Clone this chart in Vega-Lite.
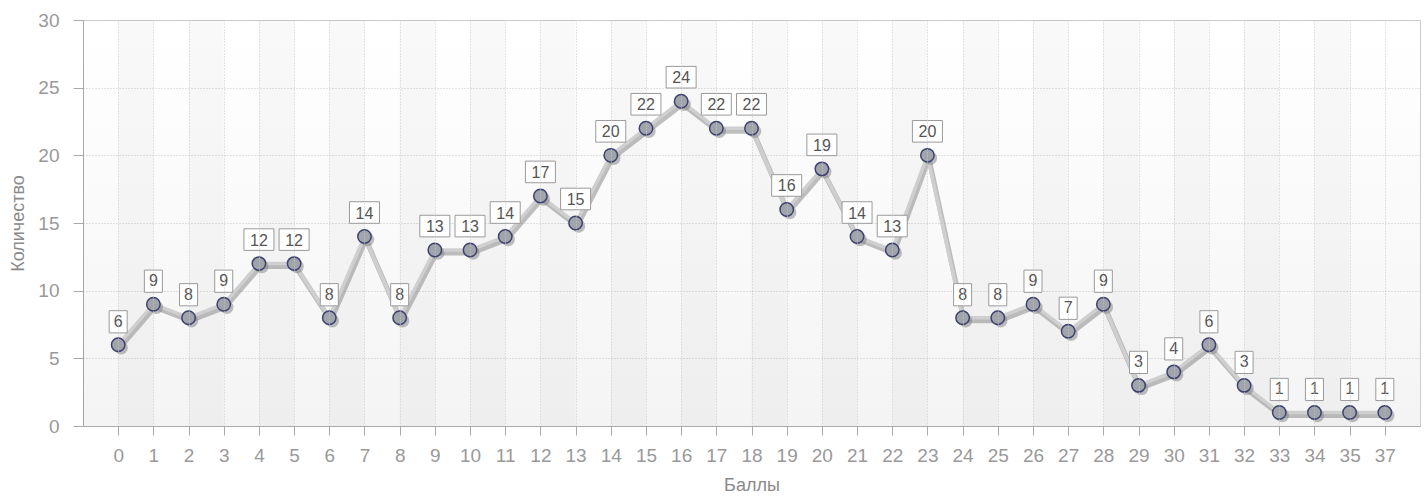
{
  "$schema": "https://vega.github.io/schema/vega-lite/v6.json",
  "width": 1337,
  "height": 406,
  "autosize": {"type": "none"},
  "padding": {"left": 83, "top": 20, "right": 7, "bottom": 71},
  "background": "white",
  "config": {
    "view": {"stroke": "#cccccc", "strokeWidth": 1},
    "font": "Liberation Sans",
    "axis": {
      "labelFont": "Liberation Sans",
      "titleFont": "Liberation Sans",
      "labelColor": "#999999",
      "titleColor": "#8a8a8a",
      "labelFontSize": 19,
      "titleFontSize": 18,
      "titleFontWeight": "normal",
      "domainColor": "#aaaaaa",
      "tickColor": "#aaaaaa",
      "gridColor": "#c8c8c8",
      "gridDash": [1, 2],
      "gridWidth": 1
    }
  },
  "data": {
    "values": [
      {"ball": "0", "count": 6},
      {"ball": "1", "count": 9},
      {"ball": "2", "count": 8},
      {"ball": "3", "count": 9},
      {"ball": "4", "count": 12},
      {"ball": "5", "count": 12},
      {"ball": "6", "count": 8},
      {"ball": "7", "count": 14},
      {"ball": "8", "count": 8},
      {"ball": "9", "count": 13},
      {"ball": "10", "count": 13},
      {"ball": "11", "count": 14},
      {"ball": "12", "count": 17},
      {"ball": "13", "count": 15},
      {"ball": "14", "count": 20},
      {"ball": "15", "count": 22},
      {"ball": "16", "count": 24},
      {"ball": "17", "count": 22},
      {"ball": "18", "count": 22},
      {"ball": "19", "count": 16},
      {"ball": "20", "count": 19},
      {"ball": "21", "count": 14},
      {"ball": "22", "count": 13},
      {"ball": "23", "count": 20},
      {"ball": "24", "count": 8},
      {"ball": "25", "count": 8},
      {"ball": "26", "count": 9},
      {"ball": "27", "count": 7},
      {"ball": "28", "count": 9},
      {"ball": "29", "count": 3},
      {"ball": "30", "count": 4},
      {"ball": "31", "count": 6},
      {"ball": "32", "count": 3},
      {"ball": "33", "count": 1},
      {"ball": "34", "count": 1},
      {"ball": "35", "count": 1},
      {"ball": "37", "count": 1}
    ]
  },
  "encoding": {
    "x": {
      "field": "ball",
      "type": "ordinal",
      "sort": null,
      "scale": {
        "type": "point",
        "padding": 1,
        "domain": ["0","1","2","3","4","5","6","7","8","9","10","11","12","13","14","15","16","17","18","19","20","21","22","23","24","25","26","27","28","29","30","31","32","33","34","35","37"]
      },
      "axis": {
        "title": "Баллы",
        "labelAngle": 0,
        "tickSize": 9,
        "labelPadding": 11,
        "grid": true,
        "titleY": 59,
        "titleBaseline": "middle"
      }
    },
    "y": {
      "field": "count",
      "type": "quantitative",
      "scale": {"domain": [0, 30], "nice": false},
      "axis": {
        "title": "Количество",
        "values": [0, 5, 10, 15, 20, 25, 30],
        "tickSize": 10,
        "labelPadding": 14,
        "grid": true,
        "titleX": -65,
        "titleY": 203,
        "titleAngle": -90,
        "titleAlign": "center",
        "titleBaseline": "middle"
      }
    }
  },
  "layer": [
    {
      "mark": {
        "type": "rect",
        "fill": {
          "gradient": "linear",
          "x1": 0, "y1": 0, "x2": 0, "y2": 1,
          "stops": [
            {"offset": 0, "color": "rgba(0,0,0,0)"},
            {"offset": 1, "color": "rgba(0,0,0,0.045)"}
          ]
        }
      },
      "encoding": {
        "x": null,
        "y": {"datum": 30},
        "y2": {"datum": 0}
      },
      "transform": [{"filter": "datum.ball == '0'"}]
    },
    {
      "transform": [
        {"window": [{"op": "lead", "field": "ball", "as": "next"}, {"op": "row_number", "as": "rn"}]},
        {"filter": "datum.rn % 2 == 1 && datum.next != null"}
      ],
      "mark": {"type": "rect", "fill": "#000000", "fillOpacity": 0.022},
      "encoding": {
        "x2": {"field": "next"},
        "y": null
      }
    },
    {
      "mark": {"type": "line", "stroke": "#8a8a8a", "strokeOpacity": 0.55, "strokeWidth": 5, "xOffset": 1.5, "yOffset": 3, "strokeJoin": "round"}
    },
    {
      "mark": {"type": "line", "stroke": "#cfcfcf", "strokeWidth": 3.5, "strokeJoin": "round"}
    },
    {
      "mark": {"type": "point", "filled": true, "fill": "#808080", "opacity": 0.5, "size": 180, "xOffset": 3, "yOffset": 3}
    },
    {
      "mark": {"type": "point", "filled": true, "fill": "#a2a4ac", "stroke": "#3d4270", "strokeWidth": 1.5, "opacity": 1, "size": 180}
    },
    {
      "transform": [{"filter": "datum.count >= 10"}],
      "mark": {"type": "point", "shape": "M-1,-0.72H1V0.72H-1Z", "size": 900, "filled": true, "fill": "white", "stroke": "#9a9a9a", "strokeWidth": 1, "opacity": 1, "yOffset": -24}
    },
    {
      "transform": [{"filter": "datum.count < 10"}],
      "mark": {"type": "point", "shape": "M-0.6,-0.74H0.6V0.74H-0.6Z", "size": 900, "filled": true, "fill": "white", "stroke": "#9a9a9a", "strokeWidth": 1, "opacity": 1, "yOffset": -23}
    },
    {
      "mark": {"type": "text", "fontSize": 16, "color": "#555555", "baseline": "middle", "align": "center", "yOffset": -23},
      "encoding": {"text": {"field": "count", "type": "quantitative"}}
    }
  ]
}
